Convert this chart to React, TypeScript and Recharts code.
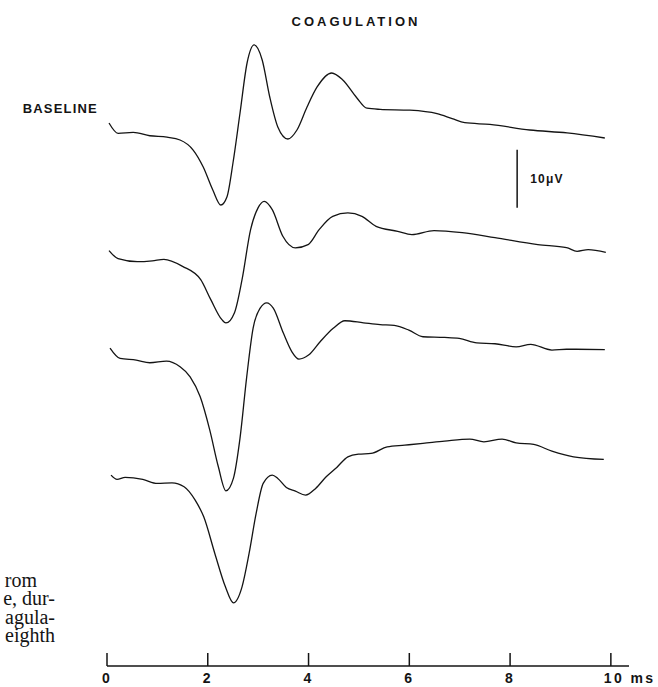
import { Line, LineChart, ReferenceLine, XAxis, YAxis } from "recharts";

// Evoked potential traces, time in ms and amplitude in µV relative to each trace's start.
const time1 = [0.04, 0.22, 0.52, 0.85, 1.19, 1.45, 1.71, 1.91, 2.1, 2.26, 2.38, 2.5, 2.64, 2.78, 2.92, 3.08, 3.23, 3.39, 3.59, 3.77, 3.97, 4.17, 4.46, 4.68, 4.96, 5.16, 5.42, 6.01, 6.55, 6.85, 7.1, 7.6, 8.39, 9.13, 9.88];
const uv1 = [0, -1.78, -1.62, -2.2, -2.45, -2.93, -4.66, -7.59, -11.55, -14.14, -12.76, -6.9, 1.72, 10.34, 13.45, 10.86, 4.48, -0.69, -2.76, -1.21, 2.76, 6.21, 8.62, 7.41, 4.31, 2.55, 2.35, 2.2, 1.6, 0.75, 0.05, -0.25, -1.21, -1.72, -2.59];

const time2 = [0.04, 0.22, 0.6, 0.9, 1.13, 1.5, 1.86, 2.06, 2.28, 2.36, 2.53, 2.68, 2.85, 3.0, 3.12, 3.28, 3.49, 3.74, 3.99, 4.21, 4.48, 4.78, 5.06, 5.34, 5.77, 6.05, 6.49, 7.05, 7.7, 8.55, 9.12, 9.33, 9.55, 9.9];
const uv2 = [0, -1.38, -1.9, -1.75, -1.5, -2.71, -5.0, -8.45, -11.9, -12.47, -10.69, -5.0, 3.62, 7.41, 8.5, 7.07, 2.47, 0.47, 1.03, 3.62, 5.91, 6.5, 5.91, 4.19, 3.33, 2.76, 3.45, 3.1, 2.24, 1.03, 0.52, -0.12, 0.17, -0.29];

const time3 = [0.06, 0.26, 0.58, 0.85, 1.18, 1.45, 1.65, 1.85, 2.04, 2.21, 2.36, 2.51, 2.64, 2.77, 2.9, 3.04, 3.17, 3.3, 3.5, 3.67, 3.81, 4.0, 4.23, 4.49, 4.72, 5.09, 5.42, 5.7, 5.99, 6.27, 6.7, 6.99, 7.34, 7.7, 8.12, 8.41, 8.83, 9.12, 9.88];
const uv3 = [0, -1.78, -2.07, -2.53, -2.24, -3.22, -4.95, -8.4, -14.14, -20.46, -24.6, -22.41, -15.52, -5.17, 3.45, 6.9, 7.81, 6.9, 2.59, -0.64, -1.9, -1.21, 1.09, 3.4, 4.71, 4.36, 4.05, 3.9, 3.1, 1.95, 1.84, 1.67, 0.9, 0.75, 0.22, 0.64, -0.34, -0.2, -0.25];

const time4 = [0.08, 0.2, 0.36, 0.71, 1.0, 1.29, 1.53, 1.75, 1.92, 2.14, 2.35, 2.51, 2.68, 2.82, 2.96, 3.1, 3.28, 3.39, 3.56, 3.74, 3.94, 4.14, 4.35, 4.56, 4.78, 4.99, 5.24, 5.56, 5.91, 6.27, 6.7, 7.2, 7.48, 7.84, 8.12, 8.47, 8.83, 9.26, 9.86];
const uv4 = [0, -0.74, -0.4, -0.74, -1.43, -1.33, -2.0, -4.31, -7.19, -13.5, -19.25, -22.01, -19.25, -13.5, -6.6, -1.43, 0, -0.57, -2.12, -2.76, -3.45, -2.29, -0.29, 1.33, 3.15, 3.62, 3.74, 4.88, 5.17, 5.47, 5.86, 6.21, 5.74, 6.21, 5.57, 5.29, 4.14, 3.16, 2.71];

// vertical stacking of the four sweeps, in µV above the time axis
const traceOffsets = [93.6, 71.6, 54.8, 32.9];
const timeTicks = [0, 2, 4, 6, 8, 10];
const captionLines = ["rom", "e, dur-", "agula-", "eighth"];

const traces = [
  [time1, uv1],
  [time2, uv2],
  [time3, uv3],
  [time4, uv4],
].map(([ts, vs], i) => ts.map((t, j) => ({ t, uv: vs[j] + traceOffsets[i] })));

const SANS = "'Liberation Sans', Arial, Helvetica, sans-serif";
const INK = "#141414";

function TimeTick(props: any) {
  const { x, y, payload } = props;
  const last = payload.value === 10;
  return (
    <g>
      <line x1={x} y1={y} x2={x} y2={y - 13} stroke={INK} strokeWidth={1.5} />
      <text
        x={last ? x - 7 : x}
        y={y + 17}
        textAnchor={last ? "start" : "middle"}
        fontFamily={SANS}
        fontWeight="bold"
        fontSize={14}
        letterSpacing={2.4}
        fill={INK}
      >
        {last ? "10 ms" : payload.value}
      </text>
    </g>
  );
}

function ScaleLabel(props: any) {
  const { viewBox } = props;
  return (
    <text
      x={viewBox.x + 13}
      y={viewBox.y + viewBox.height / 2 + 4}
      fontFamily={SANS}
      fontWeight="bold"
      fontSize={12}
      letterSpacing={1.2}
      fill={INK}
    >
      10μV
    </text>
  );
}

export default function App() {
  return (
    <div style={{ position: "fixed", left: 0, top: 0, width: 658, height: 687, background: "#fff" }}>
      <LineChart width={658} height={687} margin={{ top: 0, right: 29, bottom: 0, left: 107 }}>
        <XAxis
          type="number"
          dataKey="t"
          domain={[0, 10.36]}
          ticks={timeTicks}
          allowDataOverflow
          height={21}
          tickSize={0}
          tickMargin={0}
          tickLine={false}
          axisLine={{ stroke: INK, strokeWidth: 1.5 }}
          tick={(p: any) => <TimeTick {...p} />}
        />
        <YAxis type="number" domain={[0, 114.8]} hide allowDataOverflow />
        {traces.map((rows, i) => (
          <Line
            key={i}
            data={rows}
            dataKey="uv"
            type="monotone"
            stroke={INK}
            strokeWidth={1.3}
            dot={false}
            isAnimationActive={false}
          />
        ))}
        <ReferenceLine
          segment={[
            { x: 8.14, y: 79 },
            { x: 8.14, y: 89 },
          ]}
          stroke={INK}
          strokeWidth={1.5}
          ifOverflow="visible"
          label={(p: any) => <ScaleLabel {...p} />}
        />
        <text x={356} y={26} textAnchor="middle" fontFamily={SANS} fontWeight="bold" fontSize={13} letterSpacing={3} fill={INK}>
          COAGULATION
        </text>
        <text x={98} y={113} textAnchor="end" fontFamily={SANS} fontWeight="bold" fontSize={13} letterSpacing={1.2} fill={INK}>
          BASELINE
        </text>
        {captionLines.map((s, i) => (
          <text
            key={s}
            x={i === 0 ? 37 : 55}
            y={587 + i * 18.4}
            textAnchor="end"
            fontFamily="'Liberation Serif', 'Times New Roman', serif"
            fontSize={20}
            fill={INK}
          >
            {s}
          </text>
        ))}
      </LineChart>
    </div>
  );
}
